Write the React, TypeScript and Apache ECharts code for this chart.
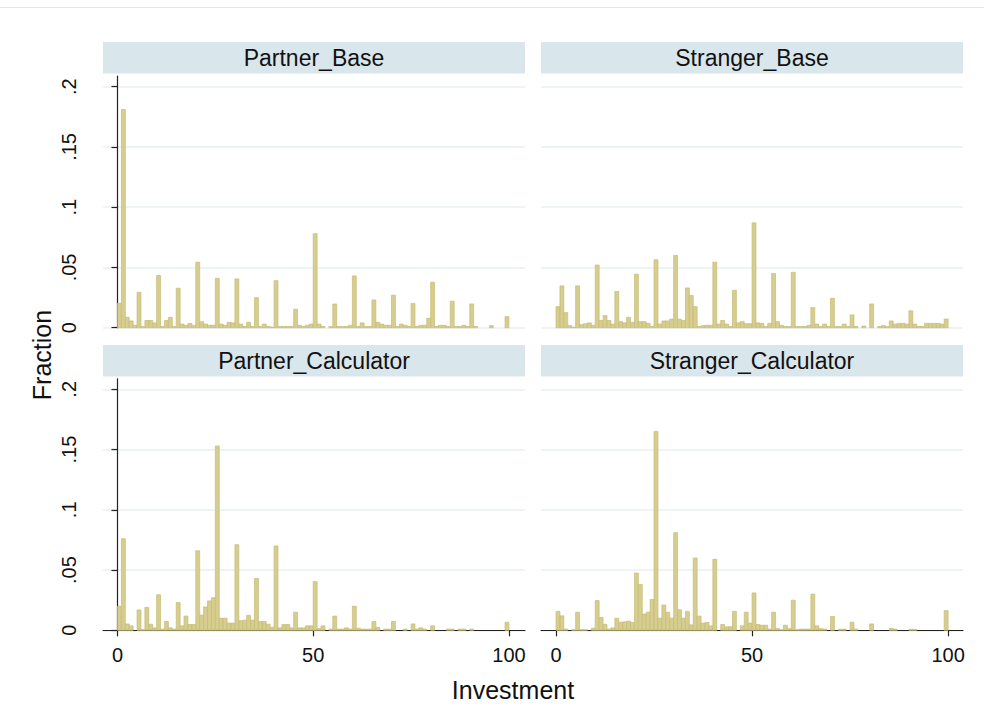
import React, { useEffect, useRef } from 'react';
import * as echarts from 'echarts';

const panelTitles = ['Partner_Base', 'Stranger_Base', 'Partner_Calculator', 'Stranger_Calculator'];
const yTicks = [0, 0.05, 0.1, 0.15, 0.2];
const xTicks = [0, 50, 100];
const binWidth = 1;

const partnerBase = [
  0.0203, 0.181, 0.0086, 0.0056, 0.002, 0.0294, 0.001, 0.006, 0.006, 0.004,
  0.0433, 0.001, 0.006, 0.0086, 0.001, 0.0328, 0.003, 0.002, 0.0036, 0.002,
  0.0544, 0.005, 0.003, 0.002, 0.002, 0.041, 0.003, 0.002, 0.0045, 0.004,
  0.0405, 0.003, 0.001, 0.0045, 0.001, 0.025, 0.001, 0.003, 0.001, 0.0005,
  0.039, 0.001, 0.001, 0.001, 0.001, 0.0153, 0.002, 0.001, 0.002, 0.003,
  0.078, 0.003, 0.001, 0, 0.001, 0.0197, 0.001, 0.001, 0.001, 0.002,
  0.043, 0.001, 0.004, 0.001, 0.001, 0.023, 0.0045, 0.003, 0.002, 0.002,
  0.027, 0.001, 0.003, 0.002, 0.001, 0.02, 0.001, 0.002, 0.002, 0.0078,
  0.0378, 0.001, 0.002, 0.002, 0.001, 0.022, 0.001, 0.001, 0.002, 0.001,
  0.0197, 0.001, 0, 0, 0, 0.0017, 0, 0, 0, 0.0092,
];

const strangerBase = [
  0.0175, 0.0347, 0.0125, 0.0017, 0.0005, 0.0347, 0.0025, 0.0033, 0.004, 0.002,
  0.052, 0.006, 0.01, 0.006, 0.003, 0.03, 0.005, 0.004, 0.0086, 0.0045,
  0.0444, 0.005, 0.005, 0.0036, 0.001, 0.0564, 0.003, 0.0056, 0.0056, 0.0072,
  0.06, 0.007, 0.006, 0.033, 0.0267, 0.0175, 0.001, 0.0017, 0.002, 0.002,
  0.0544, 0.003, 0.006, 0.003, 0.001, 0.031, 0.004, 0.005, 0.0033, 0.0033,
  0.087, 0.004, 0.0036, 0.001, 0.0036, 0.045, 0.005, 0.002, 0.001, 0.001,
  0.046, 0.001, 0.001, 0.001, 0.002, 0.0167, 0.003, 0.001, 0.003, 0.001,
  0.0244, 0.001, 0.001, 0.003, 0.001, 0.0106, 0.001, 0, 0.0014, 0,
  0.0197, 0, 0.001, 0.0017, 0.001, 0.0056, 0.003, 0.0036, 0.0036, 0.003,
  0.014, 0.003, 0.001, 0.001, 0.0036, 0.0036, 0.0036, 0.0036, 0.003, 0.0072,
];

const partnerCalculator = [
  0.02, 0.076, 0.0053, 0.0037, 0, 0.0169, 0.0005, 0.019, 0.005, 0.002,
  0.0295, 0.001, 0.0073, 0.002, 0.001, 0.023, 0.0037, 0.0118, 0.0048, 0.0048,
  0.066, 0.0126, 0.0194, 0.0244, 0.027, 0.153, 0.01, 0.01, 0.006, 0.006,
  0.071, 0.008, 0.0084, 0.0124, 0.0084, 0.043, 0.0073, 0.0073, 0.005, 0.0025,
  0.07, 0.002, 0.0048, 0.0048, 0.002, 0.015, 0.002, 0.002, 0.0037, 0.0037,
  0.0404, 0.0014, 0.0037, 0, 0.001, 0.0118, 0.001, 0.001, 0.002, 0.001,
  0.02, 0.0017, 0.001, 0.001, 0.001, 0.0073, 0.0025, 0, 0.001, 0.001,
  0.0073, 0, 0, 0.001, 0, 0.0053, 0.001, 0.002, 0.001, 0,
  0.0037, 0, 0, 0, 0.001, 0.001, 0, 0.001, 0.001, 0,
  0.001, 0, 0, 0, 0, 0, 0, 0, 0, 0.0067,
];

const strangerCalculator = [
  0.0157, 0.012, 0.001, 0, 0.0005, 0.015, 0.0005, 0.0005, 0, 0.0017,
  0.0247, 0.0107, 0.005, 0.001, 0.002, 0.01, 0.0067, 0.007, 0.0076, 0.0065,
  0.0475, 0.038, 0.0135, 0.015, 0.0256, 0.165, 0.01, 0.021, 0.015, 0.01,
  0.081, 0.017, 0.01, 0.0157, 0.0045, 0.06, 0.0118, 0.006, 0.0065, 0.0037,
  0.059, 0, 0.0048, 0.0028, 0.003, 0.0157, 0, 0.0037, 0.015, 0.006,
  0.031, 0.0048, 0.0042, 0.0042, 0.001, 0.015, 0.0014, 0.0005, 0.0042, 0.0014,
  0.025, 0.0005, 0.001, 0.001, 0.001, 0.03, 0.0037, 0.0014, 0.001, 0,
  0.0115, 0, 0.0008, 0.001, 0, 0.0067, 0.001, 0, 0, 0,
  0.0053, 0, 0, 0, 0, 0.0017, 0.001, 0, 0, 0,
  0.0008, 0.0008, 0, 0, 0, 0, 0, 0, 0, 0.0163,
];

const panelData = [partnerBase, strangerBase, partnerCalculator, strangerCalculator];

const FONT = '"Liberation Sans", Arial, sans-serif';
const STRIP = '#d9e6eb';
const GRID_LINE = '#e8eff2';
const BAR_FILL = '#d6cd8f';
const BAR_STROKE = '#c6bc76';

// layout (pixels)
const layout = [
  { left: 103, top: 76.2, showY: true, showX: false, xmin: -3.7, xmax: 104.1 },
  { left: 541, top: 76.2, showY: false, showX: false, xmin: -3.83, xmax: 103.8 },
  { left: 103, top: 378.8, showY: true, showX: true, xmin: -3.7, xmax: 104.1 },
  { left: 541, top: 378.8, showY: false, showX: true, xmin: -3.83, xmax: 103.8 },
];
const PW = 422;
const PH = 251.5;
const YMAX = 0.2087;

function yFmt(v: number) {
  if (Math.abs(v) < 1e-9) return '0';
  const s = String(Math.round(v * 100) / 100);
  return s.replace(/^0/, '');
}

export default function App() {
  const ref = useRef<HTMLDivElement>(null);
  useEffect(() => {
    if (!ref.current) return;
    const chart = echarts.init(ref.current, null, { renderer: 'svg' });

    const grids = layout.map((p) => ({
      left: p.left,
      top: p.top,
      width: PW,
      height: PH,
      containLabel: false,
    }));

    const xAxes = layout.map((p, i) => ({
      type: 'value',
      gridIndex: i,
      min: p.xmin,
      max: p.xmax,
      show: p.showX,
      axisLine: { show: true, onZero: false, lineStyle: { color: '#222', width: 1.2 } },
      axisTick: { show: true, customValues: xTicks, length: 6, lineStyle: { color: '#222', width: 1.2 } },
      axisLabel: {
        show: true,
        customValues: xTicks,
        color: '#111',
        fontFamily: FONT,
        fontSize: 20,
        margin: 15,
      },
      splitLine: { show: false },
    }));

    const yAxes = layout.map((p, i) => ({
      type: 'value',
      gridIndex: i,
      min: 0,
      max: YMAX,
      axisLine: { show: p.showY, lineStyle: { color: '#222', width: 1.2 } },
      axisTick: { show: p.showY, customValues: yTicks, length: 6, lineStyle: { color: '#222', width: 1.2 } },
      axisLabel: {
        show: p.showY,
        customValues: yTicks,
        rotate: 90,
        color: '#111',
        fontFamily: FONT,
        fontSize: 20,
        margin: 24,
        formatter: (v: number) => yFmt(v),
      },
      splitLine: { show: true, lineStyle: { color: GRID_LINE, width: 1.5 } },
    }));

    const series = panelData.map((vals, i) => ({
      type: 'custom',
      xAxisIndex: i,
      yAxisIndex: i,
      data: vals.map((v, k) => [k * binWidth, v]),
      renderItem: (params: any, api: any) => {
        const x0 = api.value(0);
        const v = api.value(1);
        if (!v) return null;
        const p0 = api.coord([x0, 0]);
        const p1 = api.coord([x0 + binWidth, v]);
        return {
          type: 'rect',
          shape: { x: p0[0], y: p1[1], width: p1[0] - p0[0], height: p0[1] - p1[1] },
          style: { fill: BAR_FILL, stroke: BAR_STROKE, lineWidth: 0.7 },
        };
      },
    }));

    const graphics: any[] = [
      { type: 'line', shape: { x1: 0, y1: 7.5, x2: 984, y2: 7.5 }, style: { stroke: '#e6e6e6', lineWidth: 1 } },
    ];
    const stripTops = [42, 42, 345, 345];
    layout.forEach((p, i) => {
      graphics.push({
        type: 'rect',
        shape: { x: p.left, y: stripTops[i], width: PW, height: 31.5 },
        style: { fill: STRIP },
      });
      graphics.push({
        type: 'text',
        x: p.left + PW / 2,
        y: stripTops[i] + 16,
        style: {
          text: panelTitles[i],
          fill: '#111',
          font: `23px ${FONT}`,
          align: 'center',
          verticalAlign: 'middle',
        },
      });
    });
    graphics.push({
      type: 'text',
      x: 42,
      y: 355,
      rotation: Math.PI / 2,
      style: { text: 'Fraction', fill: '#111', font: `25px ${FONT}`, align: 'center', verticalAlign: 'middle' },
    });
    graphics.push({
      type: 'text',
      x: 513,
      y: 690,
      style: { text: 'Investment', fill: '#111', font: `25px ${FONT}`, align: 'center', verticalAlign: 'middle' },
    });

    chart.setOption({
      animation: false,
      backgroundColor: '#ffffff',
      grid: grids,
      xAxis: xAxes,
      yAxis: yAxes,
      series,
      graphic: graphics,
    } as any);

    return () => chart.dispose();
  }, []);

  return (
    <div
      ref={ref}
      style={{ position: 'fixed', left: 0, top: 0, width: 984, height: 722, background: '#fff' }}
    />
  );
}
